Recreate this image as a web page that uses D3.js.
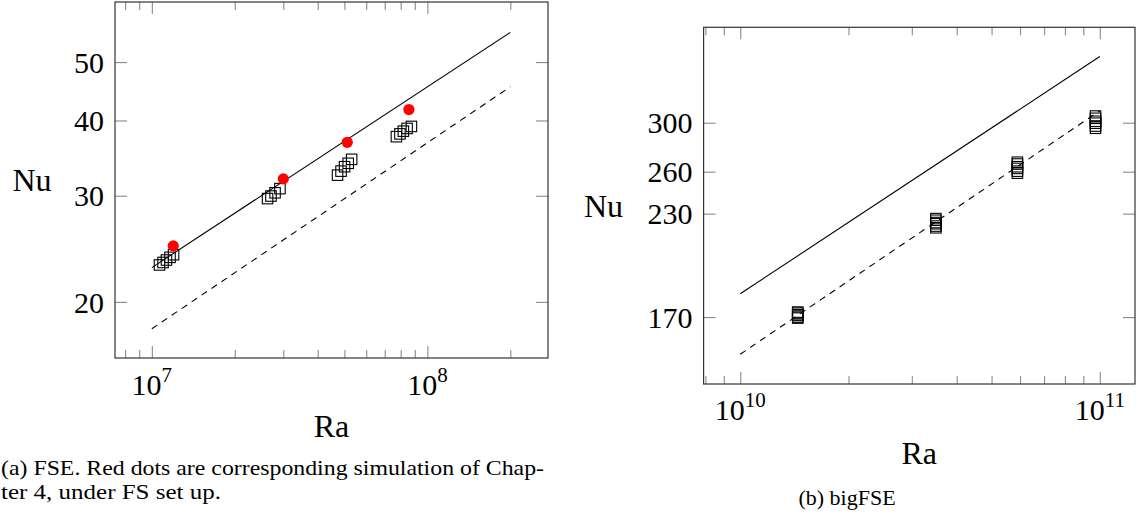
<!DOCTYPE html>
<html>
<head>
<meta charset="utf-8">
<script src="https://cdn.jsdelivr.net/npm/d3@7"></script>
<style>
  body { margin: 0; background: #fff; }
  svg { display: block; }
</style>
</head>
<body>
<div id="chart"></div>
<script>
// ---- data ----
// (a) FSE squares
const fseRa = [1.066e7, 1.098e7, 1.13e7, 1.164e7, 1.199e7,
               2.63e7, 2.706e7, 2.80e7, 2.917e7,
               4.72e7, 4.86e7, 5.005e7, 5.16e7, 5.31e7,
               7.72e7, 7.95e7, 8.18e7, 8.44e7, 8.75e7];
const fseNu = [23.03, 23.25, 23.47, 23.71, 23.95,
               29.68, 29.97, 30.34, 30.83,
               32.46, 32.96, 33.52, 33.96, 34.48,
               37.6, 38.0, 38.4, 38.8, 39.1];
// (a) red dots: Chapter 4 FS simulations
const fsRa = [1.196e7, 3.0e7, 5.12e7, 8.57e7];
const fsNu = [24.77, 32.0, 36.8, 41.7];
// (a) reference lines
const fseSolidRa = [1e7, 2e8];
const fseSolidNu = [22.8, 56.0];
const fseDashRa = [1e7, 2e8];
const fseDashNu = [18.05, 45.5];

// (b) bigFSE squares
const bigRa = [1.445e10, 1.445e10, 1.445e10, 1.445e10, 1.445e10, 1.445e10,
               3.5e10, 3.5e10, 3.5e10, 3.5e10, 3.5e10, 3.5e10,
               5.9e10, 5.9e10, 5.9e10, 5.9e10, 5.9e10, 5.9e10,
               9.73e10, 9.73e10, 9.73e10, 9.73e10, 9.73e10, 9.73e10];
const bigNu = [169.5, 170.0, 170.8, 171.2, 172.0, 172.5,
               220.7, 221.8, 223.3, 224.1, 225.6, 226.7,
               258.9, 260.4, 262.5, 263.8, 265.9, 267.3,
               295.2, 297.1, 299.6, 301.3, 303.9, 305.9];
const bigSolidRa = [1e10, 1e11];
const bigSolidNu = [182, 364];
const bigDashRa = [1e10, 1e11];
const bigDashNu = [152.5, 310.7];

// ticks
const fseYTicks = [20, 30, 40, 50];
const fseXMajor = [1e7, 1e8];
const fseXMinor = [8e6, 9e6, 2e7, 3e7, 4e7, 5e7, 6e7, 7e7, 8e7, 9e7, 2e8];
const bigYTicks = [170, 230, 260, 300];
const bigXMajor = [1e10, 1e11];
const bigXMinor = [8e9, 9e9, 2e10, 3e10, 4e10, 5e10, 6e10, 7e10, 8e10, 9e10];

const W = 1137, H = 518;
const serif = "'Liberation Serif', 'DejaVu Serif', serif";
const tickColor = "#8a8a8a";
const markSize = 10.5;

const svg = d3.select("#chart").append("svg")
    .attr("width", W)
    .attr("height", H);

function zip(a, b) { return a.map((v, i) => [v, b[i]]); }

function drawPanel(p) {
    const x = d3.scaleLog().domain(p.xDomain).range([p.left, p.right]);
    const y = d3.scaleLog().domain(p.yDomain).range([p.bottom, p.top]);
    const g = svg.append("g");

    // inward ticks on all four sides
    function styleTicks(sel) {
        sel.select(".domain").remove();
        sel.selectAll(".tick line").attr("stroke", tickColor).attr("stroke-width", 1.1);
    }
    const xAxes = [
        [d3.axisBottom, p.bottom],
        [d3.axisTop, p.top]
    ];
    xAxes.forEach(([axisFn, ty]) => {
        g.append("g").attr("transform", `translate(0,${ty})`)
            .call(axisFn(x).tickValues(p.xMinor).tickSizeInner(-8).tickSizeOuter(0).tickFormat(""))
            .call(styleTicks);
        g.append("g").attr("transform", `translate(0,${ty})`)
            .call(axisFn(x).tickValues(p.xMajor).tickSizeInner(-12).tickSizeOuter(0).tickFormat(""))
            .call(styleTicks);
    });
    g.append("g").attr("transform", `translate(${p.right},0)`)
        .call(d3.axisRight(y).tickValues(p.yTicks).tickSizeInner(-12).tickSizeOuter(0).tickFormat(""))
        .call(styleTicks);
    g.append("g").attr("transform", `translate(${p.left},0)`)
        .call(d3.axisLeft(y).tickValues(p.yTicks).tickSizeInner(-12).tickSizeOuter(0)
            .tickPadding(11).tickFormat(d3.format("d")))
        .call(styleTicks)
        .attr("font-family", serif)
        .attr("font-size", 30)
        .selectAll("text").attr("fill", "#000").attr("dy", "0.34em");

    // x major labels 10^n
    g.selectAll("text.xlab")
        .data(p.xMajor)
        .enter()
        .append("text")
        .attr("class", "xlab")
        .attr("x", d => x(d))
        .attr("y", p.bottom + 37 + p.xLabShift)
        .attr("text-anchor", "middle")
        .attr("font-family", serif)
        .attr("font-size", 30)
        .each(function(d) {
            const t = d3.select(this);
            t.append("tspan").text("10");
            t.append("tspan").attr("dy", -13).attr("font-size", 21)
                .text(Math.round(Math.log10(d)));
        });

    // frame
    g.append("rect")
        .attr("x", p.left).attr("y", p.top)
        .attr("width", p.right - p.left).attr("height", p.bottom - p.top)
        .attr("fill", "none").attr("stroke", "#333").attr("stroke-width", 1.2);

    const line = d3.line().x(d => x(d[0])).y(d => y(d[1]));
    g.append("path").datum(zip(p.solidRa, p.solidNu))
        .attr("d", line).attr("fill", "none").attr("stroke", "#000").attr("stroke-width", 1.1);
    g.append("path").datum(zip(p.dashRa, p.dashNu))
        .attr("d", line).attr("fill", "none").attr("stroke", "#000").attr("stroke-width", 1.1)
        .attr("stroke-dasharray", "6.5,5.5");

    g.selectAll("rect.mark")
        .data(zip(p.ra, p.nu))
        .enter()
        .append("rect")
        .attr("class", "mark")
        .attr("x", d => x(d[0]) - markSize / 2)
        .attr("y", d => y(d[1]) - markSize / 2)
        .attr("width", markSize).attr("height", markSize)
        .attr("fill", "none").attr("stroke", "#000").attr("stroke-width", 1.1);

    if (p.dotRa) {
        g.selectAll("circle.dot")
            .data(zip(p.dotRa, p.dotNu))
            .enter()
            .append("circle")
            .attr("class", "dot")
            .attr("cx", d => x(d[0]))
            .attr("cy", d => y(d[1]))
            .attr("r", 5.6)
            .attr("fill", "#ff0000");
    }

    // axis titles
    g.append("text")
        .attr("x", p.nuX).attr("y", (p.top + p.bottom) / 2 + 11)
        .attr("text-anchor", "middle")
        .attr("font-family", serif).attr("font-size", 32)
        .text("Nu");
    g.append("text")
        .attr("x", (p.left + p.right) / 2).attr("y", p.raY)
        .attr("text-anchor", "middle")
        .attr("font-family", serif).attr("font-size", 32)
        .text("Ra");
}

drawPanel({
    left: 115, right: 548, top: 2, bottom: 358,
    xDomain: [7.35e6, 2.74e8], yDomain: [16.14, 62.9],
    xMajor: fseXMajor, xMinor: fseXMinor, yTicks: fseYTicks,
    xLabShift: 0,
    ra: fseRa, nu: fseNu,
    dotRa: fsRa, dotNu: fsNu,
    solidRa: fseSolidRa, solidNu: fseSolidNu,
    dashRa: fseDashRa, dashNu: fseDashNu,
    nuX: 32, raY: 437
});

drawPanel({
    left: 703.6, right: 1135, top: 27.3, bottom: 384,
    xDomain: [7.907e9, 1.253e11], yDomain: [139.8, 396.5],
    xMajor: bigXMajor, xMinor: bigXMinor, yTicks: bigYTicks,
    xLabShift: -1,
    ra: bigRa, nu: bigNu,
    solidRa: bigSolidRa, solidNu: bigSolidNu,
    dashRa: bigDashRa, dashNu: bigDashNu,
    nuX: 603.5, raY: 464
});

// captions
svg.append("text")
    .attr("x", 1).attr("y", 475)
    .attr("font-family", serif).attr("font-size", 22)
    .attr("textLength", 543).attr("lengthAdjust", "spacingAndGlyphs")
    .text("(a) FSE. Red dots are corresponding simulation of Chap-");
svg.append("text")
    .attr("x", 1).attr("y", 499)
    .attr("font-family", serif).attr("font-size", 22)
    .attr("textLength", 220).attr("lengthAdjust", "spacingAndGlyphs")
    .text("ter 4, under FS set up.");
svg.append("text")
    .attr("x", 847).attr("y", 505)
    .attr("text-anchor", "middle")
    .attr("font-family", serif).attr("font-size", 22)
    .text("(b) bigFSE");
</script>
</body>
</html>
